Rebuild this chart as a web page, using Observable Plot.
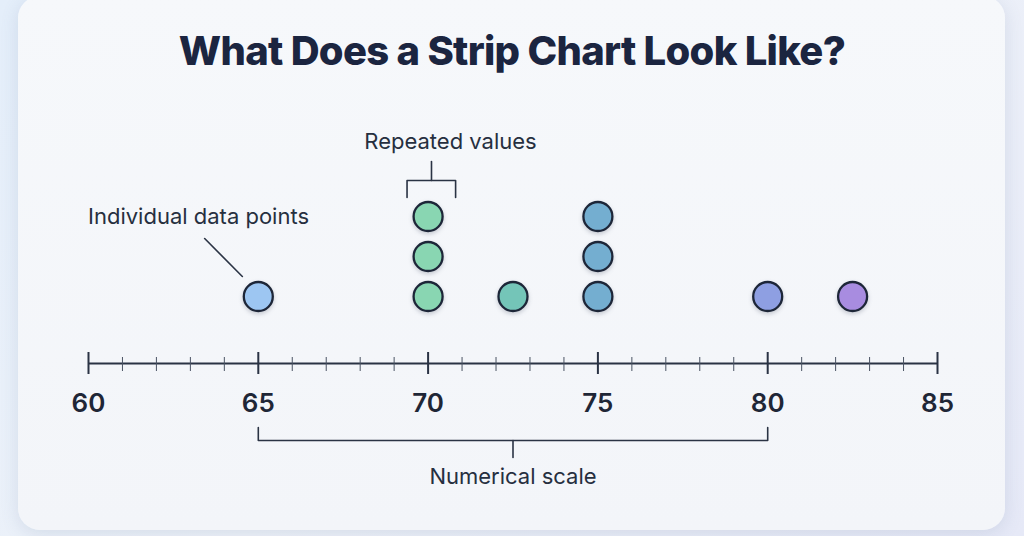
<!DOCTYPE html>
<html>
<head>
<meta charset="utf-8">
<script src="https://cdn.jsdelivr.net/npm/d3@7"></script>
<script src="https://cdn.jsdelivr.net/npm/@observablehq/plot@0.6"></script>
<style>
  html, body { margin: 0; padding: 0; }
  body {
    width: 1024px; height: 536px; overflow: hidden; position: relative;
    background: linear-gradient(135deg, #e4eefa 0%, #eef2f9 50%, #e6e9f7 100%);
    font-family: Inter, "Noto Sans", sans-serif;
  }
  #card {
    position: absolute; left: 18px; top: -4px; width: 987px; height: 534px;
    border-radius: 22px;
    background: linear-gradient(180deg, #f6f8fb 0%, #f3f5f9 100%);
    box-shadow: 0 4px 18px rgba(90, 110, 150, 0.16);
  }
  #title {
    position: absolute; left: 0; top: 27px; width: 1024px; text-align: center;
    margin: 0; font-family: Inter, sans-serif; font-weight: 800; font-size: 40px;
    line-height: 48px; letter-spacing: -0.7px; color: #1b2540;
  }
  #chart { position: absolute; left: 0; top: 0; }
  #chart svg circle { filter: drop-shadow(0 2px 2px rgba(30, 40, 70, 0.22)); }
</style>
</head>
<body>
<div id="card"></div>
<h1 id="title">What Does a Strip Chart Look Like?</h1>
<div id="chart"></div>
<script>
// ---- data ----
const values = [65, 70, 70, 70, 72.5, 75, 75, 75, 80, 82.5];
const majorTicks = [60, 65, 70, 75, 80, 85];
const minorTicks = d3.range(60, 86, 1).filter(v => v % 5 !== 0);
const colorDomain = [65, 70, 72.5, 75, 80, 82.5];
const colorRange = ["#9dc6f2", "#89d6b2", "#74c5b8", "#74aed0", "#8e9fe2", "#a88ce0"];
const annotations = ["Individual data points", "Repeated values", "Numerical scale"];

// stack repeated values into rows
const seen = new Map();
const points = values.map(v => {
  const level = seen.get(v) || 0;
  seen.set(v, level + 1);
  return {value: v, level};
});

// ---- layout constants (row units on y) ----
const AXIS = -1.675;
const ink = "#2a3344";

const repeatedX = [69.38, 70.81];
const repBracket = [
  {x: repeatedX[0], y: 2.475}, {x: repeatedX[0], y: 2.9},
  {x: repeatedX[1], y: 2.9}, {x: repeatedX[1], y: 2.475}
];
const repStem = [{x: 70.1, y: 2.9}, {x: 70.1, y: 3.375}];
const scaleBracket = [
  {x: 65, y: -3.275}, {x: 65, y: -3.6}, {x: 80, y: -3.6}, {x: 80, y: -3.275}
];
const scaleStem = [{x: 72.5, y: -3.6}, {x: 72.5, y: -4.025}];
const leader = [{x: 63.42, y: 1.45}, {x: 64.53, y: 0.5}];

const chart = Plot.plot({
  width: 1024,
  height: 536,
  marginLeft: 88,
  marginRight: 87,
  x: {domain: [60, 85], axis: null},
  y: {domain: [0, 2], range: [296, 216], axis: null},
  color: {type: "ordinal", domain: colorDomain, range: colorRange},
  style: {background: "transparent", fontFamily: "Inter, sans-serif", overflow: "visible"},
  marks: [
    // axis line
    Plot.ruleY([AXIS], {x1: 60, x2: 85, stroke: ink, strokeWidth: 2}),
    Plot.ruleX(minorTicks, {x: d => d, y1: AXIS + 0.15, y2: AXIS - 0.2, stroke: "#4a5363", strokeWidth: 1}),
    Plot.ruleX(majorTicks, {x: d => d, y1: AXIS + 0.275, y2: AXIS - 0.275, stroke: ink, strokeWidth: 2}),
    Plot.text(majorTicks, {x: d => d, y: AXIS, dy: 40, text: d => String(d), fontSize: 26, fontWeight: 600, fill: "#1f2636"}),
    // brackets and leader
    Plot.line(repBracket, {x: "x", y: "y", stroke: ink, strokeWidth: 1.6, curve: "linear"}),
    Plot.line(repStem, {x: "x", y: "y", stroke: ink, strokeWidth: 1.6}),
    Plot.line(scaleBracket, {x: "x", y: "y", stroke: ink, strokeWidth: 1.6}),
    Plot.line(scaleStem, {x: "x", y: "y", stroke: ink, strokeWidth: 1.6}),
    Plot.line(leader, {x: "x", y: "y", stroke: ink, strokeWidth: 1.6}),
    // annotation texts
    Plot.text([annotations[0]], {x: 63.24, y: 2.0, text: d => d, fontSize: 22, fill: "#262f3f"}),
    Plot.text([annotations[1]], {x: 70.66, y: 3.875, text: d => d, fontSize: 22, fill: "#262f3f"}),
    Plot.text([annotations[2]], {x: 72.5, y: -4.5, text: d => d, fontSize: 22, fill: "#262f3f"}),
    // data points
    Plot.dot(points, {x: "value", y: "level", r: 14.5, fill: "value", stroke: "#1d2638", strokeWidth: 2.3})
  ]
});
document.getElementById("chart").appendChild(chart);
</script>
</body>
</html>
